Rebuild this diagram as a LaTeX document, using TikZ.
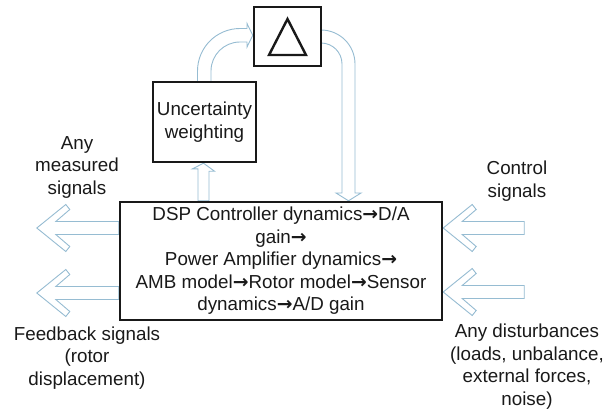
\documentclass[tikz,border=0pt]{standalone}
\usepackage{fontspec}
\setmainfont{Liberation Sans}
\newfontfamily\arrowfont{DejaVu Sans}
\newcommand{\nxt}{{\arrowfont\bfseries →}}
\usetikzlibrary{calc}
\definecolor{ink}{RGB}{25,25,25}
\definecolor{flow}{RGB}{150,188,210}
\pgfdeclarelayer{bg}
\pgfsetlayers{bg,main}
\begin{document}
\begin{tikzpicture}[x=1pt,y=1pt,
  block/.style={draw=ink, line width=2.4pt, fill=white, inner sep=0pt},
  txt/.style={text=ink, align=center, font=\fontsize{18.8}{22.5}\selectfont},
  hollow/.style={draw=flow, line width=0.9pt, fill=white, line join=miter},
  % wide hollow arrow pointing left, tip at the origin, shaft of length #1
  pics/blockarr/.style={code={
    \draw[hollow] (0,0) -- (29,23.5) -- (33,18.5) -- (19,6.5) -- (#1,6.5)
      -- (#1,-6.5) -- (19,-6.5) -- (33,-18.5) -- (29,-23.5) -- cycle;}}]
\useasboundingbox (0,0) rectangle (605,416);

% blocks
\node[block, txt, minimum width=322pt, minimum height=118pt] (plant) at (281,155)
  {DSP Controller dynamics\nxt D/A\\gain\nxt\\Power Amplifier dynamics\nxt\\AMB model\nxt Rotor model\nxt Sensor\\dynamics\nxt A/D gain};
\node[block, txt, minimum width=103pt, minimum height=80pt] (wgt) at (204.5,294)
  {Uncertainty\\weighting};
\node[block, minimum width=67pt, minimum height=59pt] (delta) at (287.5,379.5) {};
\draw[ink, line width=2.4pt, line join=miter]
  ($(delta.center)+(0,17.5)$) -- ($(delta.center)+(18.5,-18.5)$)
  -- ($(delta.center)+(-18.5,-18.5)$) -- cycle;

% labels
\node[txt] (meas) at (77,249) {Any\\measured\\signals};
\node[txt] (fb) at (87,58) {Feedback signals\\(rotor\\displacement)};
\node[txt] (ctrl) at (517,235) {Control\\signals};
\node[txt] (dist) at (527,49.5) {Any disturbances\\(loads, unbalance,\\external forces,\\noise)};

\begin{pgfonlayer}{bg}
  % plant -> weighting
  \coordinate (upTip) at ($(wgt.south)+(-1,0)$);
  \draw[hollow] (upTip) -- ++(11,-8) -- ++(-5.5,0) |- (plant.north -| 198,0)
    -- ++(0,32) -- ++(-5.5,0) -- cycle;
  % weighting -> delta
  \draw[hollow] (197.5,334) -- (197.5,345) arc[start angle=180, end angle=90, radius=42.5]
    -- (247,387.5) -- (247,392.5) -- (delta.west |- 0,380.75) -- (247,369) -- (247,374)
    -- (240,374) arc[start angle=90, end angle=180, radius=29] -- (211,334);
  % delta -> plant
  \draw[hollow] (321,386) arc[start angle=90, end angle=0, radius=34] -- (355,223)
    -- (361,223) -- (plant.north -| 348.5,0) -- (336,223) -- (342,223) -- (342,352)
    arc[start angle=0, end angle=90, radius=21] -- (321,373);
  % side arrows
  \pic at ($(plant.east)+(0,33)$) {blockarr=81};
  \pic at ($(plant.east)+(0,-31)$) {blockarr=81};
  \pic at ($(plant.west)+(-82,33)$) {blockarr=82};
  \pic at ($(plant.west)+(-82,-32)$) {blockarr=82};
\end{pgfonlayer}
\end{tikzpicture}
\end{document}
